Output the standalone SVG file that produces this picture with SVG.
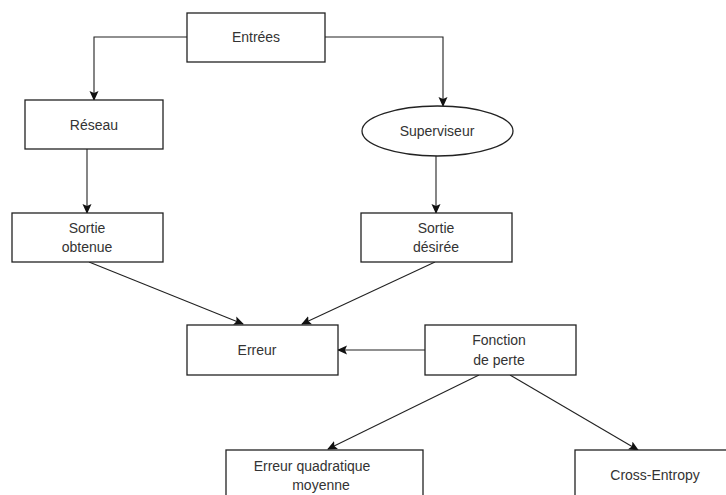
<svg xmlns="http://www.w3.org/2000/svg" width="726" height="495" viewBox="0 0 726 495">
  <defs>
    <marker id="arrow" viewBox="0 0 10 10" refX="9" refY="5" markerWidth="10" markerHeight="10" markerUnits="userSpaceOnUse" orient="auto">
      <path d="M0,0.5 L10,5 L0,9.5 L2,5 Z" fill="#111"/>
    </marker>
  </defs>
  <style>
    .box { fill: #ffffff; stroke: #222; stroke-width: 1.3; }
    .edge { fill: none; stroke: #222; stroke-width: 1.1; marker-end: url(#arrow); }
    .lbl { font-family: "Liberation Sans", Arial, sans-serif; font-size: 14px; fill: #333; text-anchor: middle; dominant-baseline: central; }
  </style>
  <rect width="726" height="495" fill="#ffffff"/>

  <!-- connectors -->
  <g id="connectors">
    <path class="edge" d="M187,37 H94 V100"/>
    <path class="edge" d="M325,37 H443 V106"/>
    <path class="edge" d="M87,149 V213"/>
    <path class="edge" d="M436,156 V213"/>
    <path class="edge" d="M89,262 L243,324"/>
    <path class="edge" d="M435,262 L302,324"/>
    <path class="edge" d="M425,350 L338,350"/>
    <path class="edge" d="M479,375 L328,449"/>
    <path class="edge" d="M510,375 L638,450"/>
  </g>

  <!-- nodes -->
  <g id="entrees">
    <rect class="box" x="187" y="13" width="138" height="49"/>
    <text class="lbl" x="256" y="37">Entrées</text>
  </g>
  <g id="reseau">
    <rect class="box" x="25" y="100" width="138" height="49"/>
    <text class="lbl" x="94" y="125">Réseau</text>
  </g>
  <g id="superviseur">
    <ellipse class="box" cx="437.5" cy="131" rx="75.5" ry="25"/>
    <text class="lbl" x="437" y="131">Superviseur</text>
  </g>
  <g id="sortie-obtenue">
    <rect class="box" x="12" y="213" width="151" height="49"/>
    <text class="lbl" x="87" y="228">Sortie</text>
    <text class="lbl" x="87" y="247">obtenue</text>
  </g>
  <g id="sortie-desiree">
    <rect class="box" x="361" y="213" width="151" height="49"/>
    <text class="lbl" x="436" y="228">Sortie</text>
    <text class="lbl" x="436" y="247">désirée</text>
  </g>
  <g id="erreur">
    <rect class="box" x="187" y="325" width="151" height="50"/>
    <text class="lbl" x="257" y="350">Erreur</text>
  </g>
  <g id="fonction-perte">
    <rect class="box" x="425" y="325" width="151" height="50"/>
    <text class="lbl" x="499" y="340">Fonction</text>
    <text class="lbl" x="499" y="360">de perte</text>
  </g>
  <g id="erreur-quadratique">
    <rect class="box" x="226" y="450" width="197" height="60"/>
    <text class="lbl" x="312" y="466">Erreur quadratique</text>
    <text class="lbl" x="321" y="485">moyenne</text>
  </g>
  <g id="cross-entropy">
    <rect class="box" x="575" y="450" width="170" height="60"/>
    <text class="lbl" x="655" y="475">Cross-Entropy</text>
  </g>
</svg>
